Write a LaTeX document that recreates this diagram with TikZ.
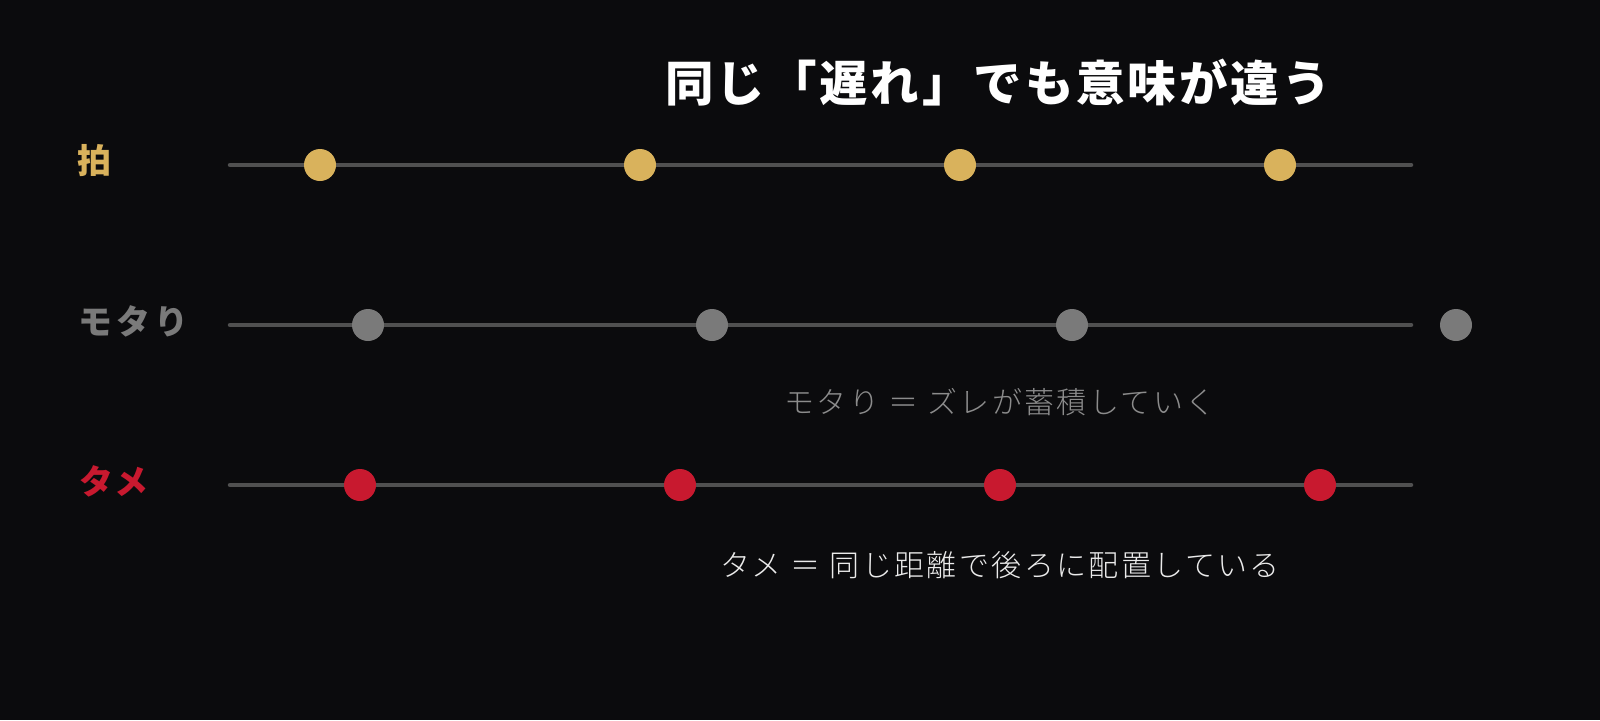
\documentclass[tikz,border=0pt]{standalone}
\usepackage{fontspec}
\newfontfamily\jpwide[LetterSpace=6]{Noto Sans CJK JP}
\newfontfamily\jplight[LetterSpace=8]{Noto Sans CJK JP Light}
\usetikzlibrary{positioning}
\definecolor{bg}{HTML}{0B0B0D}
\definecolor{gold}{HTML}{D9B25C}
\definecolor{tamered}{HTML}{C8192F}
\definecolor{motagray}{HTML}{7A7A7A}
\definecolor{trackgray}{HTML}{505050}
\definecolor{notegray}{HTML}{8C8C8C}
\tikzset{
    track/.style={draw=trackgray, line width=4.5pt, line cap=round},
    dotB/.style={circle, fill=gold, minimum size=32pt, inner sep=0pt},
    dotM/.style={circle, fill=motagray, minimum size=32pt, inner sep=0pt},
    dotT/.style={circle, fill=tamered, minimum size=32pt, inner sep=0pt},
    rowlabel/.style={anchor=west, inner sep=0pt, font=\jpwide\bfseries\fontsize{34pt}{34pt}\selectfont},
    note/.style={inner sep=0pt, font=\jplight\fontsize{30pt}{30pt}\selectfont},
    title/.style={inner sep=0pt, text=white, font=\jpwide\bfseries\fontsize{48.5pt}{48.5pt}\selectfont},
}
\begin{document}
\begin{tikzpicture}[x=1pt, y=-1pt]
    % Background
    \fill[bg] (0,0) rectangle (1600,720);
    \useasboundingbox (0,0) rectangle (1600,720);

    % Title
    \node[title] (T) at (998,83) {同じ「遅れ」でも意味が違う};

    % Tracks
    \coordinate (bS) at (230,165);
    \coordinate (bE) at (1411,165);
    \coordinate (mS) at (230,325);
    \coordinate (mE) at (1411,325);
    \coordinate (tS) at (230,485);
    \coordinate (tE) at (1411,485);
    \draw[track] (bS) -- (bE);
    \draw[track] (mS) -- (mE);
    \draw[track] (tS) -- (tE);

    % Row labels
    \node[rowlabel, text=gold] (labB) at (77,161) {拍};
    \node[rowlabel, text=motagray, font=\jpwide\bfseries\fontsize{34pt}{34pt}\selectfont\addfontfeature{LetterSpace=12}] (labM) at (78,321) {モタり};
    \node[rowlabel, text=tamered] (labT) at (79,481) {タメ};

    % Beat
    \node[dotB] (b1) at (320,165) {};
    \node[dotB] (b2) at (640,165) {};
    \node[dotB] (b3) at (960,165) {};
    \node[dotB] (b4) at (1280,165) {};

    % Motari
    \node[dotM] (m1) at (368,325) {};
    \node[dotM] (m2) at (712,325) {};
    \node[dotM] (m3) at (1072,325) {};
    \node[dotM] (m4) at (1456,325) {};

    % Tame
    \node[dotT] (t1) at (360,485) {};
    \node[dotT] (t2) at (680,485) {};
    \node[dotT] (t3) at (1000,485) {};
    \node[dotT] (t4) at (1320,485) {};

    % Notes
    \node[note, text=notegray] (noteM) at (1000,402) {モタり ＝ ズレが蓄積していく};
    \node[note, text=white!92!black] (noteT) at (1000,565) {タメ ＝ 同じ距離で後ろに配置している};
\end{tikzpicture}
\end{document}
